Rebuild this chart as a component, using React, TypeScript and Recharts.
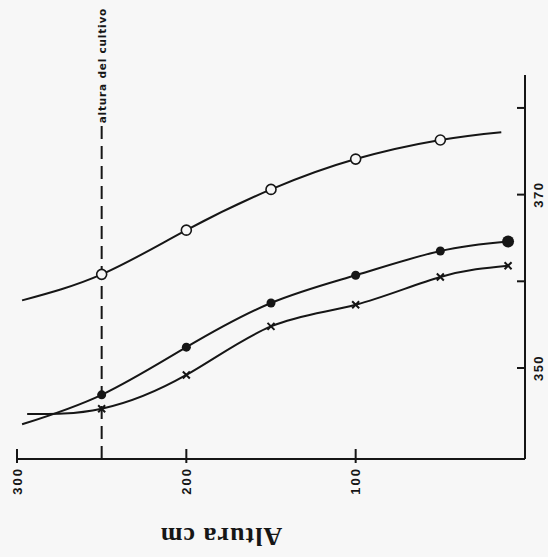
import React from 'react';
import { LineChart, Line, XAxis, YAxis, ReferenceLine, Label } from 'recharts';

// plant height (cm) vs value — three treatments
const openX = [297, 250, 200, 150, 100, 50, 14];
const openY = [357.8, 360.8, 365.9, 370.6, 374.1, 376.3, 377.2];
const openMarked = [false, true, true, true, true, true, false];

const filledX = [297, 250, 200, 150, 100, 50, 10];
const filledY = [343.5, 346.9, 352.4, 357.5, 360.7, 363.5, 364.6];
const filledMarked = [false, true, true, true, true, true, true];

const crossX = [294, 250, 200, 150, 100, 50, 10];
const crossY = [344.7, 345.3, 349.2, 354.8, 357.3, 360.5, 361.8];
const crossMarked = [false, true, true, true, true, true, true];

const xTicks = [300, 200, 100];
const yTicks = [350, 360, 370, 380];
const yTickLabels: Record<number, string> = { 350: '350', 370: '370' };

const cropHeight = 250;
const cropTop = 378;

const INK = '#161616';
const BG = '#f7f7f7';

const toRows = (xs: number[], ys: number[]) => xs.map((x, i) => ({ x, y: ys[i] }));

const openData = toRows(openX, openY);
const filledData = toRows(filledX, filledY);
const crossData = toRows(crossX, crossY);

const openDot = (p: any) => {
  const { cx, cy, index } = p;
  if (!openMarked[index]) return <g key={`o${index}`} />;
  return <circle key={`o${index}`} cx={cx} cy={cy} r={5} fill={BG} stroke={INK} strokeWidth={1.6} />;
};

const filledDot = (p: any) => {
  const { cx, cy, index } = p;
  if (!filledMarked[index]) return <g key={`f${index}`} />;
  const r = index === filledX.length - 1 ? 6 : 4.5;
  return <circle key={`f${index}`} cx={cx} cy={cy} r={r} fill={INK} />;
};

const crossDot = (p: any) => {
  const { cx, cy, index } = p;
  if (!crossMarked[index]) return <g key={`c${index}`} />;
  const s = 3.5;
  return (
    <path
      key={`c${index}`}
      d={`M${cx - s},${cy - s}L${cx + s},${cy + s}M${cx - s},${cy + s}L${cx + s},${cy - s}`}
      stroke={INK}
      strokeWidth={2}
    />
  );
};

const XTick = (p: any) => {
  const { x, y, payload } = p;
  return (
    <g>
      <line x1={x} y1={y - 10} x2={x} y2={y + 4} stroke={INK} strokeWidth={2} />
      <text
        x={x}
        y={y + 8}
        transform={`rotate(-90, ${x}, ${y + 8})`}
        textAnchor="end"
        dominantBaseline="central"
        fontFamily="Liberation Sans"
        fontWeight="bold"
        fontSize={13}
        letterSpacing={2}
        fill={INK}
      >
        {payload.value}
      </text>
    </g>
  );
};

const YTick = (p: any) => {
  const { x, y, payload } = p;
  const label = yTickLabels[payload.value];
  return (
    <g>
      <line x1={x - 8} y1={y} x2={x} y2={y} stroke={INK} strokeWidth={2} />
      {label && (
        <text
          x={x + 14}
          y={y}
          transform={`rotate(-90, ${x + 14}, ${y})`}
          textAnchor="middle"
          dominantBaseline="central"
          fontFamily="Liberation Sans"
          fontWeight="bold"
          fontSize={13}
          letterSpacing={1.5}
          fill={INK}
        >
          {label}
        </text>
      )}
    </g>
  );
};

const AxisTitle = (p: any) => {
  const vb = p.viewBox || { x: 17, y: 459, width: 508, height: 60 };
  const cx = vb.x + 204;
  const cy = vb.y + 77;
  return (
    <text
      x={cx}
      y={cy}
      transform={`rotate(180, ${cx}, ${cy})`}
      textAnchor="middle"
      dominantBaseline="central"
      fontFamily="Liberation Serif"
      fontWeight="bold"
      fontSize={26}
      letterSpacing={1}
      fill={INK}
    >
      Altura cm
    </text>
  );
};

const CropLabel = (p: any) => {
  const vb = p.viewBox || { x: 104, y: 125 };
  const x = vb.x;
  const y = vb.y - 2;
  return (
    <text
      x={x}
      y={y}
      transform={`rotate(-90, ${x}, ${y})`}
      textAnchor="start"
      dominantBaseline="central"
      fontFamily="DejaVu Sans"
      fontWeight="bold"
      fontSize={10.5}
      letterSpacing={0.8}
      fill={INK}
    >
      altura del cultivo
    </text>
  );
};

export default function App() {
  return (
    <div style={{ position: 'absolute', left: 0, top: 0, width: 548, height: 557, background: BG }}>
      <LineChart width={548} height={557} margin={{ top: 75, right: 0, bottom: 38, left: 17 }}>
        <XAxis
          type="number"
          dataKey="x"
          domain={[0, 300]}
          reversed
          ticks={xTicks}
          height={60}
          tickSize={0}
          tickMargin={0}
          tick={XTick}
          axisLine={{ stroke: INK, strokeWidth: 2 }}
          allowDataOverflow
        >
          <Label content={AxisTitle} />
        </XAxis>
        <YAxis
          orientation="right"
          type="number"
          domain={[339.5, 383.8]}
          ticks={yTicks}
          width={23}
          tickSize={0}
          tickMargin={0}
          tick={YTick}
          axisLine={{ stroke: INK, strokeWidth: 2 }}
          allowDataOverflow
        />
        <ReferenceLine
          segment={[{ x: cropHeight, y: 339.5 }, { x: cropHeight, y: cropTop }]}
          stroke={INK}
          strokeWidth={2}
          strokeDasharray="13 7"
          label={{ content: CropLabel }}
        />
        <Line data={openData} dataKey="y" type="natural" stroke={INK} strokeWidth={2} dot={openDot} isAnimationActive={false} />
        <Line data={filledData} dataKey="y" type="natural" stroke={INK} strokeWidth={2} dot={filledDot} isAnimationActive={false} />
        <Line data={crossData} dataKey="y" type="natural" stroke={INK} strokeWidth={2} dot={crossDot} isAnimationActive={false} />
      </LineChart>
    </div>
  );
}
